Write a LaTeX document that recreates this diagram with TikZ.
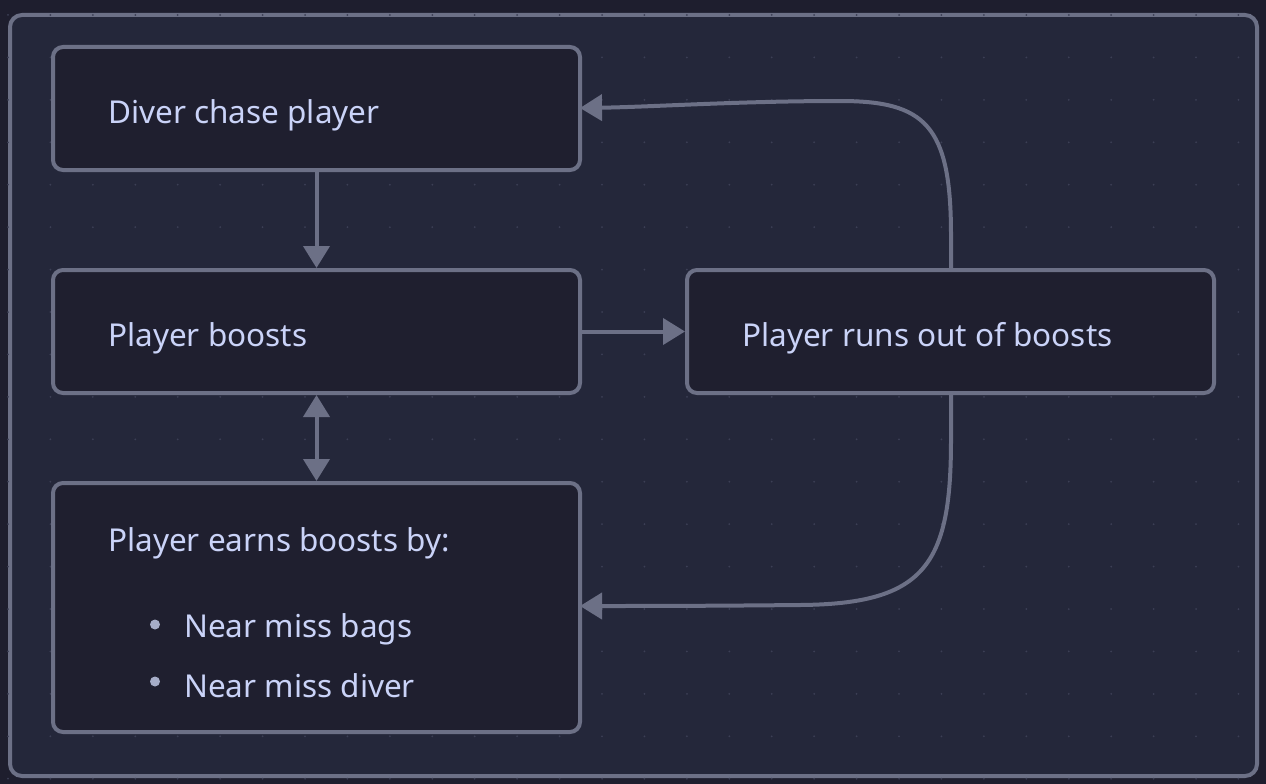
\documentclass[tikz,border=0pt]{standalone}
\usepackage{fontspec}
\setmainfont{Noto Sans}
\usetikzlibrary{arrows.meta}
\definecolor{bgout}{HTML}{1E1E2E}
\definecolor{bgin}{HTML}{24273A}
\definecolor{nodefill}{HTML}{1F1F2F}
\definecolor{edge}{HTML}{6C7086}
\definecolor{txt}{HTML}{CAD3F8}
\definecolor{dotc}{HTML}{3C3F55}
\definecolor{bullc}{HTML}{A6ADC8}
\tikzset{
  box/.style={draw=edge, line width=4pt, fill=nodefill, rounded corners=10pt, minimum width=527pt, inner sep=0pt},
  lbl/.style={anchor=west, text=txt, font=\fontsize{31.5}{36}\selectfont, inner sep=0pt},
  conn/.style={draw=edge, line width=4pt, -{Triangle[length=22pt,width=26pt]}},
}
\begin{document}
\begin{tikzpicture}[x=1pt,y=-1pt]
\fill[bgout] (0,0) rectangle (1266,784);
\useasboundingbox (0,0) rectangle (1266,784);
\draw[edge, line width=4pt, fill=bgin, rounded corners=12pt] (10,15) rectangle (1257,776);
\foreach \i in {0,...,29}{
  \foreach \j in {0,...,18}{
    \fill[dotc] (8+42.43*\i, 15+42.43*\j) circle (1pt);
  }
}
\node[box, minimum height=123pt] (n1) at (316.5,108.5) {};
\node[box, minimum height=123pt] (n2) at (316.5,331.5) {};
\node[box, minimum height=123pt] (n3) at (950.5,331.5) {};
\node[box, minimum height=249pt] (n4) at (316.5,607.5) {};
\node[lbl] (t1) at (108,115) {Diver chase player};
\node[lbl] (t2) at (108,338) {Player boosts};
\node[lbl] (t3) at (742,338) {Player runs out of boosts};
\node[lbl] (t4) at (108,543) {Player earns boosts by:};
\node[lbl] (t5) at (184,629) {Near miss bags};
\node[lbl] (t6) at (184,686) {Near miss diver};
\fill[bullc] (155,624.5) circle (5pt);
\fill[bullc] (155,681.5) circle (5pt);
\draw[conn] (n1.south) -- (n2.north);
\draw[conn] (n2.east) -- (n3.west);
\draw[conn, {Triangle[length=22pt,width=26pt]}-{Triangle[length=22pt,width=26pt]}] (n2.south) -- (n4.north);
\coordinate (a1) at (951,270);
\coordinate (a2) at (580,108);
\coordinate (b1) at (951,393);
\coordinate (b2) at (580,606);
\draw[conn] (a1) -- (951,235) .. controls (951,125) and (925,101) .. (840,101) .. controls (740,101) and (650,107) .. (a2);
\draw[conn] (b1) -- (951,440) .. controls (951,565) and (925,604) .. (800,605) .. controls (700,606) and (640,606) .. (b2);
\end{tikzpicture}
\end{document}
